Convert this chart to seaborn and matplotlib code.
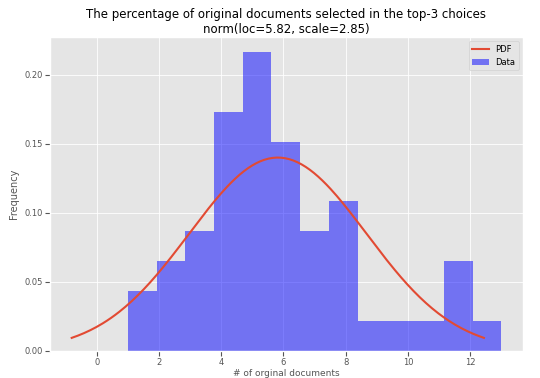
import numpy as np
import pandas as pd
import seaborn as sns
import matplotlib
matplotlib.use('Agg')
import matplotlib.pyplot as plt

# number of original documents (1..13) and how often each occurred
n_docs = [1, 2, 3, 4, 5, 6, 7, 8, 9, 10, 11, 12, 13]
counts = [2, 3, 4, 8, 10, 7, 4, 5, 1, 1, 1, 3, 1]

data = np.repeat(n_docs, counts)
loc = data.mean()
scale = data.std()

# normal pdf between the 1% and 99% quantiles
z99 = 2.3263
xs = np.linspace(loc - z99 * scale, loc + z99 * scale, 200)
pdf = np.exp(-0.5 * ((xs - loc) / scale) ** 2) / (scale * np.sqrt(2 * np.pi))

plt.style.use('ggplot')
fig, ax = plt.subplots(figsize=(5.4, 3.78), dpi=100)
fig.subplots_adjust(left=0.093, right=0.968, top=0.902, bottom=0.072)

sns.lineplot(x=xs, y=pdf, color='#E24A33', lw=1.5, label='PDF', ax=ax)
sns.histplot(x=data, bins=13, stat='density', color='blue', alpha=0.5,
             edgecolor='none', linewidth=0, label='Data', ax=ax)

ax.set_title('The percentage of original documents selected in the top-3 choices\n'
             'norm(loc=%.2f, scale=%.2f)' % (loc, scale), fontsize=8.5, pad=3)
ax.set_xlabel('# of orginal documents', fontsize=6.5, labelpad=1)
ax.set_ylabel('Frequency', fontsize=7)
ax.tick_params(labelsize=6, pad=2)
ax.grid(color='white', linewidth=0.6)
ax.set_yticks([0, 0.05, 0.10, 0.15, 0.20])
ax.yaxis.set_major_formatter(matplotlib.ticker.FormatStrFormatter('%.2f'))
ax.legend(loc='upper right', fontsize=6)

fig.savefig('out.png', dpi=100)
